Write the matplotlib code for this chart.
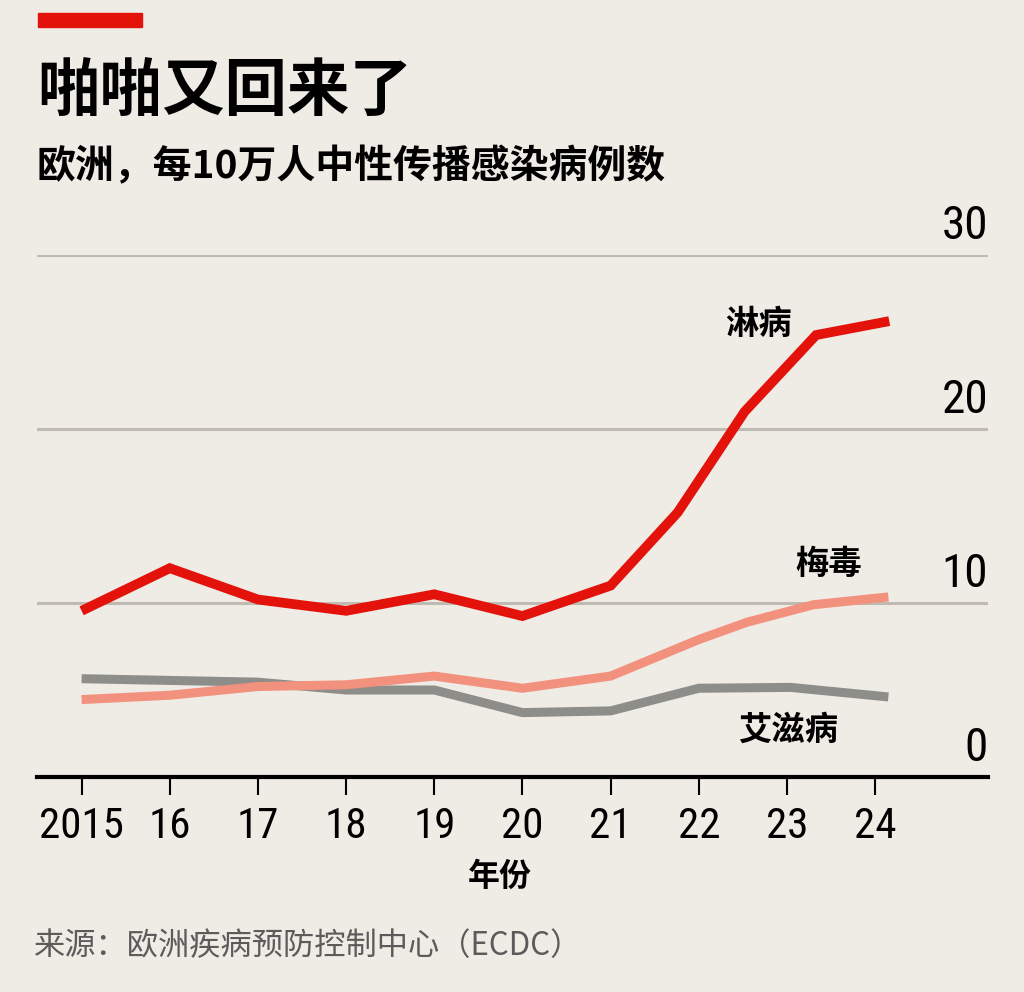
import matplotlib
matplotlib.use("Agg")
import matplotlib.pyplot as plt
from matplotlib import font_manager as fm
from matplotlib.patches import Rectangle
from matplotlib.transforms import offset_copy

# data (cases per 100k people)
gonorrhoea_x = [2015, 2016, 2017, 2018, 2019, 2020, 2021, 2021.76, 2022.52, 2023.33, 2024.16]
gonorrhoea = [9.55, 12.0, 10.2, 9.55, 10.5, 9.25, 11.0, 15.2, 21.0, 25.4, 26.2]

syphilis_x = [2015, 2016, 2017, 2018, 2019, 2020, 2021, 2022.0, 2022.55, 2023.30, 2024.15]
syphilis = [4.45, 4.7, 5.2, 5.3, 5.8, 5.1, 5.8, 7.9, 8.9, 9.9, 10.35]

hiv_x = [2015, 2016, 2017, 2018, 2019, 2020, 2021, 2022.0, 2023.04, 2024.15]
hiv = [5.65, 5.55, 5.45, 5.0, 5.0, 3.7, 3.8, 5.1, 5.15, 4.6]

year_ticks = [2015, 2016, 2017, 2018, 2019, 2020, 2021, 2022, 2023, 2024]
year_labels = ["2015", "16", "17", "18", "19", "20", "21", "22", "23", "24"]
y_ticks = [0, 10, 20, 30]

BG = "#efebe5"
RED = "#e3120b"
PINK = "#f2917d"
GREY = "#8d8d89"
CJK = ["Noto Sans CJK SC", "DejaVu Sans"]

names = {f.name for f in fm.fontManager.ttflist}
num_font = next((n for n in ["Liberation Sans Narrow", "DejaVu Sans Condensed",
                             "Roboto Condensed", "Liberation Sans"] if n in names),
                "DejaVu Sans")
cjk_weights = {f.weight for f in fm.fontManager.ttflist if f.name == "Noto Sans CJK SC"}
mid_w = "medium" if 500 in cjk_weights else "bold"
heavy_w = 900 if 900 in cjk_weights else "bold"

plt.rcParams["font.family"] = CJK

fig = plt.figure(figsize=(10.24, 9.92), dpi=100, facecolor=BG)
ax = fig.add_axes([37 / 1024, 1 - 777 / 992, 951 / 1024, 522 / 992])
ax.set_facecolor(BG)

ax.plot(hiv_x, hiv, color=GREY, lw=6.5, solid_joinstyle="miter",
        solid_capstyle="butt", zorder=3)
ax.plot(syphilis_x, syphilis, color=PINK, lw=6.5, solid_joinstyle="miter",
        solid_capstyle="butt", zorder=4)
ax.plot(gonorrhoea_x, gonorrhoea, color=RED, lw=7, solid_joinstyle="miter",
        solid_capstyle="butt", zorder=5)

ax.set_xlim(2014.494, 2025.28)
ax.set_ylim(0, 30)

for s in ["top", "left", "right"]:
    ax.spines[s].set_visible(False)
ax.spines["bottom"].set_linewidth(3)
ax.spines["bottom"].set_color("black")
ax.spines["bottom"].set_zorder(6)

ax.set_yticks(y_ticks)
ax.tick_params(axis="y", left=False, labelleft=False)
ax.grid(axis="y", color="#bfbab2", lw=2.2, zorder=0)
ax.set_axisbelow(True)

ax.set_xticks(year_ticks)
ax.set_xticklabels(year_labels, fontfamily=num_font, fontsize=31)
ax.tick_params(axis="x", direction="out", length=13, width=1.5, pad=8, color="black")

lab_tr = offset_copy(ax.get_yaxis_transform(), fig=fig, y=16, units="dots")
for v in y_ticks:
    ax.text(1.0, v, str(v), transform=lab_tr, ha="right", va="baseline",
            fontfamily=num_font, fontsize=34)

ax.text(2022.68, 26.0, "淋病", ha="center", va="center", fontsize=24, fontweight=mid_w)
ax.text(2023.47, 12.2, "梅毒", ha="center", va="center", fontsize=24, fontweight=mid_w)
ax.text(2023.01, 2.7, "艾滋病", ha="center", va="center", fontsize=24, fontweight=mid_w)

fig.text(0.488, 1 - 877 / 992, "年份", ha="center", va="center", fontsize=23,
         fontweight=mid_w)

fig.patches.append(Rectangle((38 / 1024, 1 - 27 / 992), 104 / 1024, 14 / 992,
                             transform=fig.transFigure, color=RED))
fig.text(37 / 1024, 1 - 111 / 992, "啪啪又回来了", ha="left", va="baseline",
         fontsize=45, fontweight=heavy_w)
fig.text(37 / 1024, 1 - 178 / 992, "欧洲，每10万人中性传播感染病例数", ha="left",
         va="baseline", fontsize=28, fontweight=mid_w)
fig.text(34 / 1024, 1 - 955 / 992, "来源：欧洲疾病预防控制中心（ECDC）", ha="left",
         va="baseline", fontsize=22.5, color="#5b5b5b")

fig.savefig("out.png", dpi=100, facecolor=BG)
